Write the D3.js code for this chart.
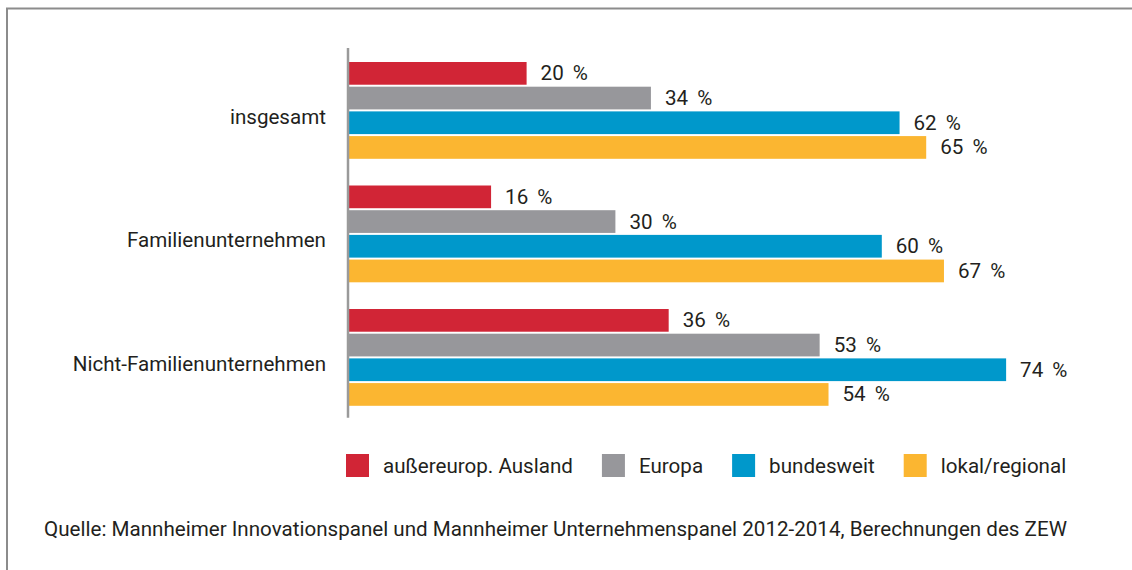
<!DOCTYPE html>
<html>
<head>
<meta charset="utf-8">
<script src="https://cdn.jsdelivr.net/npm/d3@7"></script>
<style>
  body { margin: 0; background: #fff; }
  svg text { font-family: Roboto, "Noto Sans", sans-serif; fill: #231f20; }
</style>
</head>
<body>
<svg id="chart" width="1132" height="570"></svg>
<script>

// DATA

var categories = ["insgesamt", "Familienunternehmen", "Nicht-Familienunternehmen"];
var seriesNames = ["außereurop. Ausland", "Europa", "bundesweit", "lokal/regional"];
var seriesColors = ["#d12536", "#97979b", "#0098cb", "#fbb631"];

var ausland = [20, 16, 36];
var europa = [34, 30, 53];
var bundesweit = [62, 60, 74];
var lokal = [65, 67, 54];

var seriesValues = [ausland, europa, bundesweit, lokal];
var sourceText = "Quelle: Mannheimer Innovationspanel und Mannheimer Unternehmenspanel 2012-2014, Berechnungen des ZEW";

var fs = 20.6;

// SCALES

var svg = d3.select("#chart");

var x = d3.scaleLinear()
    .domain([0, 100])
    .range([349, 1237]);

var y0 = d3.scaleBand()
    .domain(categories)
    .range([62, 407.8])
    .paddingInner(0.2)
    .paddingOuter(0);

var y1 = d3.scaleBand()
    .domain(seriesNames)
    .range([0, y0.bandwidth() - 2])
    .paddingInner(0.08)
    .paddingOuter(0);

// FRAME

svg.append("path")
    .attr("d", "M1132,8.5H7V570")
    .attr("fill", "none")
    .attr("stroke", "#8c8c8c")
    .attr("stroke-width", 2);

// BARS

var rows = [];
categories.forEach(function (cat, i) {
    seriesNames.forEach(function (name, j) {
        rows.push({ cat: cat, name: name, value: seriesValues[j][i], color: seriesColors[j] });
    });
});

var groups = svg.selectAll(".bar")
    .data(rows)
    .enter().append("g")
    .attr("class", "bar")
    .attr("transform", function (d) { return "translate(0," + (y0(d.cat) + y1(d.name)) + ")"; });

groups.append("rect")
    .attr("x", x(0))
    .attr("y", 0)
    .attr("width", function (d) { return x(d.value) - x(0); })
    .attr("height", y1.bandwidth())
    .attr("fill", function (d) { return d.color; });

groups.append("text")
    .attr("x", function (d) { return x(d.value) + 14; })
    .attr("y", y1.bandwidth() / 2 + 7)
    .attr("font-size", fs)
    .attr("word-spacing", 4)
    .text(function (d) { return d.value + " %"; });

// AXIS

var axis = svg.append("g")
    .attr("transform", "translate(" + (x(0) - 1) + ",0)")
    .call(d3.axisLeft(y0).tickSize(0).tickPadding(22));

axis.select(".domain").remove();
axis.selectAll("text")
    .attr("font-size", fs)
    .attr("font-family", "Roboto, 'Noto Sans', sans-serif")
    .attr("fill", "#231f20")
    .attr("dy", "0.6em");

svg.append("line")
    .attr("x1", x(0) - 1)
    .attr("x2", x(0) - 1)
    .attr("y1", y0.range()[0] - 14)
    .attr("y2", y0.range()[1] + 10)
    .attr("stroke", "#9a9a9a")
    .attr("stroke-width", 2.5);

// LEGEND

var lx = 346;
seriesNames.forEach(function (name, j) {
    var item = svg.append("g").attr("transform", "translate(" + lx + ",454)");
    item.append("rect")
        .attr("width", 23)
        .attr("height", 23)
        .attr("fill", seriesColors[j]);
    var t = item.append("text")
        .attr("x", 37)
        .attr("y", 19)
        .attr("font-size", fs)
        .text(name);
    lx += 37 + t.node().getComputedTextLength() + 29;
});

// SOURCE

svg.append("text")
    .attr("x", 44)
    .attr("y", 536)
    .attr("font-size", fs)
    .text(sourceText);

</script>
</body>
</html>
